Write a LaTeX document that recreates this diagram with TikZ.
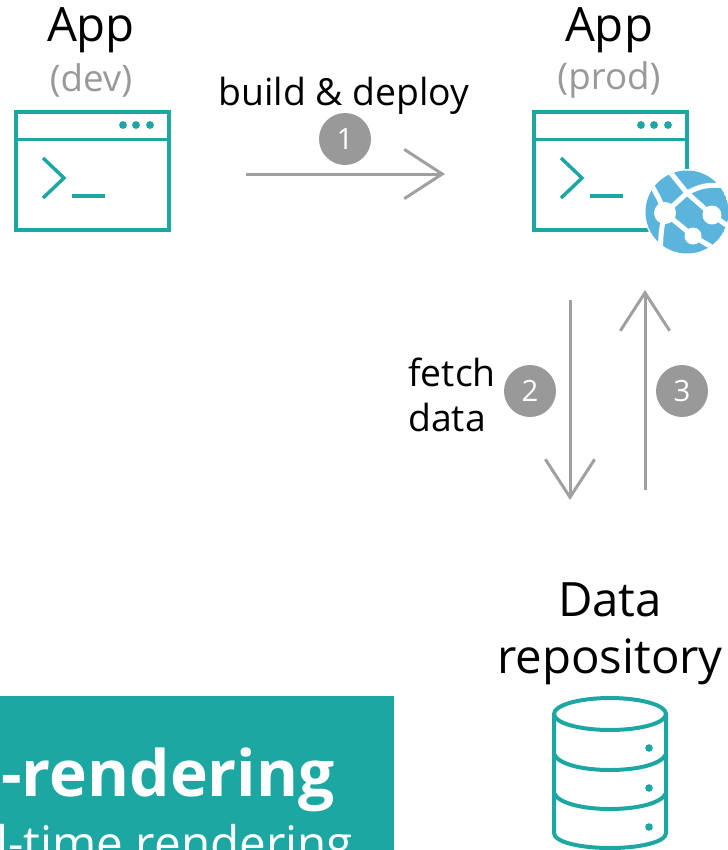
\documentclass[tikz,border=0pt]{standalone}
\usepackage{fontspec}
\setmainfont{Open Sans}
\usepackage{xcolor}
\definecolor{appteal}{RGB}{29,167,163}
\definecolor{arrowgray}{RGB}{160,160,160}
\definecolor{stepgray}{RGB}{153,153,153}
\definecolor{globeblue}{RGB}{91,180,220}
\usetikzlibrary{positioning, arrows.meta}

\begin{document}
\begin{tikzpicture}[
    x=0.75pt, y=-0.75pt,
    % Styles
    window/.style={% For the app boxes
        rectangle,
        draw=appteal,
        line width=3pt,
        outer sep=0pt,
        minimum width=153*0.75pt,
        minimum height=118*0.75pt,
        inner sep=0pt,
        },
    title/.style={% For big black labels
        font=\fontsize{35.5pt}{43pt}\selectfont,
        align=center,
        inner sep=0pt,
        },
    subtitle/.style={% For gray labels
        font=\fontsize{27.5pt}{33pt}\selectfont,
        text=stepgray,
        inner sep=0pt,
        },
    mylabel/.style={% For arrow labels
        font=\fontsize{28pt}{34pt}\selectfont,
        align=left,
        inner sep=0pt,
        },
    stepdot/.style={% For numbered circles
        circle,
        fill=stepgray,
        text=white,
        minimum size=39pt,
        inner sep=0pt,
        font=\fontsize{22pt}{24pt}\selectfont,
        },
    ArrowG/.style={% Arrows with open heads
        draw=arrowgray,
        line width=2.25pt,
        -{Straight Barb[length=28.5pt,width=37pt,line width=2.25pt]},
        },
    tealline/.style={
        draw=appteal,
        line width=3pt,
        },
    globeline/.style={
        draw=white,
        line width=3.75pt,
        },
    ]
\useasboundingbox (0,0) rectangle (728,850);
\clip (0,0) rectangle (728,850);

    % Draw the banner
    \node [rectangle, fill=appteal, minimum width=394*0.75pt, minimum height=154*0.75pt,
        inner sep=0pt, outer sep=0pt, anchor=north west] (banner) at (0,696) {};
    \node [anchor=base west, text=white, inner sep=0pt,
        font=\fontsize{48pt}{50pt}\selectfont\bfseries] (bannermain) at (1,796) {-rendering};
    \node [anchor=base west, text=white, inner sep=0pt,
        font=\fontsize{35.7pt}{40pt}\selectfont] (bannersub) at (-4,860) {l-time rendering};

    % Draw titles
    \node [title] (appdev) at (91,30) {App};
    \node [subtitle] (dev) at (91,80) {(dev)};
    \node [title] (appprod) at (609,30) {App};
    \node [subtitle] (prod) at (609,80) {(prod)};
    \node [title] (repo) at (610,634) {Data\\repository};

    % Draw the app windows
    \foreach \name/\xs in {dev/16,prod/534}{
        \node [window, anchor=north west] (win\name) at (\xs,111.5) {};
        \draw [tealline, line width=2.25pt] (\xs,139) -- (\xs+153,139);
        \foreach \xd in {107,120,134}
            \fill [appteal] (\xs+\xd,125) circle (3.9);
        \draw [tealline, line width=2.6pt] (\xs+27,158) -- (\xs+48,178) -- (\xs+27,198);
        \draw [tealline] (\xs+56,196) -- (\xs+89,196);
    }

    % Draw the globe
    \fill [white] (687,212) circle (43);
    \begin{scope}
        \clip (687,212) circle (41.5);
        \fill [globeblue] (687,212) circle (41.5);
        \coordinate (hub1) at (665,213);
        \coordinate (hub2) at (712,215);
        \coordinate (hub3) at (693,236);
        \coordinate (hub4) at (687,193);
        \draw [globeline] (hub1) -- (hub4) -- (hub2) -- (735,231);
        \draw [globeline] (670,172) -- (hub4);
        \draw [globeline] (hub4) .. controls (700,186) and (708,184) .. (725,186);
        \draw [globeline] (hub1) -- (hub3) -- (720,252);
        \draw [globeline] (hub1) .. controls (660,200) and (657,195) .. (651,184);
        \draw [globeline] (hub1) .. controls (661,228) and (660,240) .. (661,256);
        \fill [white] (hub1) circle (11);
        \fill [white] (hub2) circle (9.5);
        \fill [white] (hub3) circle (8.5);
    \end{scope}

    % Draw the data repository
    \draw [tealline] (610,714) ellipse (56 and 16);
    \draw [tealline] (554,714) -- (554,833) .. controls (554,842) and (580,848) .. (610,848)
        .. controls (640,848) and (666,842) .. (666,833) -- (666,714);
    \draw [tealline] (554,754) .. controls (558,764) and (582,770) .. (610,770)
        .. controls (638,770) and (662,764) .. (666,754);
    \draw [tealline] (554,793) .. controls (558,803) and (582,809) .. (610,809)
        .. controls (638,809) and (662,803) .. (666,793);
    \foreach \yd in {748,788,827}
        \fill [appteal] (649,\yd) circle (3.8);

    % Draw the arrows
    \coordinate (deployfrom) at (246,174);
    \coordinate (deployto) at (445,174);
    \coordinate (fetchfrom) at (570,300);
    \coordinate (fetchto) at (570,500);
    \coordinate (returnfrom) at (645,490);
    \coordinate (returnto) at (645,290);
    \draw [ArrowG] (deployfrom) -- (deployto);
    \draw [ArrowG] (fetchfrom) -- (fetchto);
    \draw [ArrowG] (returnfrom) -- (returnto);

    % Draw the steps and labels
    \node [stepdot] (one) at (345,139) {1};
    \node [stepdot] (two) at (530,391) {2};
    \node [stepdot] (three) at (682,391) {3};
    \node [mylabel] (deploy) at (344,96) {build \& deploy};
    \node [mylabel, anchor=west] (fetch) at (408,395) {fetch\\data};

\end{tikzpicture}
\end{document}
